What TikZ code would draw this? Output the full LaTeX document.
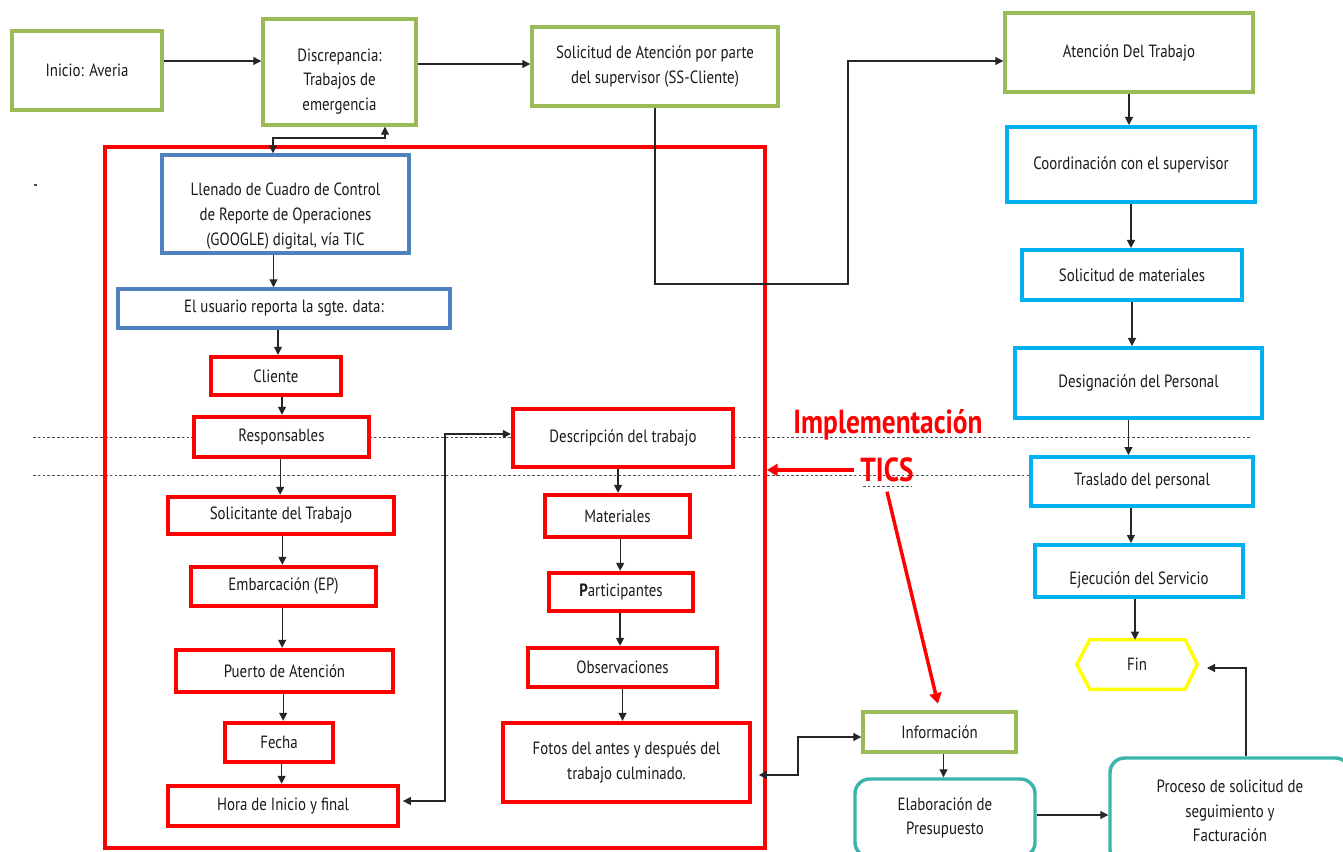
\documentclass[tikz,border=0pt]{standalone}
\usepackage{fontspec}
\setmainfont{PT Sans}[FakeStretch=0.84]
\newfontfamily\boldcond{PT Sans}[FakeStretch=0.82]
\usetikzlibrary{arrows.meta,calc}
\definecolor{gr}{HTML}{9BBB59}
\definecolor{bl}{HTML}{4F81BD}
\definecolor{cy}{HTML}{00B0F0}
\definecolor{tl}{HTML}{3BB5AC}
\definecolor{yl}{HTML}{FFFF00}
\definecolor{txt}{HTML}{1A1A1A}
\tikzset{
 sz/.style 2 args={minimum width=#1*0.75pt, minimum height=#2*0.75pt},
 tf/.style={font=\fontsize{13.3}{18.5}\selectfont, text=txt},
 bx/.style={draw, fill=white, inner sep=0pt, align=center, tf},
 gbox/.style={bx, draw=gr, line width=2.6pt},
 bbox/.style={bx, draw=bl, line width=2.6pt},
 cbox/.style={bx, draw=cy, line width=3pt},
 rbox/.style={bx, draw=red, line width=3.3pt},
 tbox/.style={bx, draw=tl, line width=2.6pt, rounded corners=11pt},
 arr/.style={-{Triangle[length=6pt,width=6pt]}, line width=0.9pt, draw=black!85},
 darr/.style={{Triangle[length=6pt,width=6pt]}-{Triangle[length=6pt,width=6pt]}, line width=0.9pt, draw=black!85},
 redarr/.style={-{Triangle[length=8pt,width=9pt]}, line width=2.6pt, draw=red},
 dots/.style={draw=black!70, line width=0.6pt, dash pattern=on 2pt off 1.6pt},
}
\begin{document}
\begin{tikzpicture}[x=0.75pt,y=-0.75pt]
\useasboundingbox (0,0) rectangle (1343,852);
\clip (0,0) rectangle (1343,852);
\fill[white] (0,0) rectangle (1343,852);

% dotted guide lines
\draw[dots] (33,437) -- (1250,437);
\draw[dots] (33,475) -- (1031,475);
\draw[dots] (863,486) -- (912,486);
\fill[black!70] (34,184.5) rectangle (37,185.6);

% big red frame
\node[draw=red, line width=2.9pt, sz={660}{701}, inner sep=0pt] (big) at (435,497.5) {};

% nodes top row
\node[gbox, sz={150}{79}] (ini) at (87,70.5) {Inicio: Averia};
\node[gbox, sz={153}{106}, label={[tf, align=center, yshift=-7pt]center:Discrepancia:\\Trabajos de\\emergencia}] (disc) at (339.5,72) {};
\node[gbox, sz={246}{79}] (sol) at (655,66.5) {Solicitud de Atención por parte\\del supervisor (SS-Cliente)};

% right column
\node[gbox, sz={248}{79}] (aten) at (1129,52.5) {Atención Del Trabajo};
\node[cbox, sz={248}{75}] (coord) at (1131,164.5) {Coordinación con el supervisor};
\node[cbox, sz={220}{50}] (solm) at (1132,275) {Solicitud de materiales};
\node[cbox, sz={247}{70}] (desig) at (1138.5,383) {Designación del Personal};
\node[cbox, sz={222}{49}] (trasl) at (1142,481.5) {Traslado del personal};
\node[cbox, sz={208}{52}, label={[tf, yshift=-7pt]center:Ejecución del Servicio}] (ejec) at (1139,571) {};
\node[bx, draw=none, fill=none, sz={120}{49}] (fin) at (1137,664.5) {Fin};
\draw[yl, line width=2.6pt, line join=round] (fin.west) -- ($(fin.north west)+(13,0)$) -- ($(fin.north east)+(-12,0)$) -- (fin.east) -- ($(fin.south east)+(-12,0)$) -- ($(fin.south west)+(13,0)$) -- cycle;

% bottom right
\node[gbox, sz={153}{40}] (info) at (939.5,732) {Información};
\node[tbox, sz={180}{78}] (elab) at (945,818) {Elaboración de\\Presupuesto};
\node[tbox, sz={240}{106}] (proc) at (1230,811) {Proceso de solicitud de\\seguimiento y\\Facturación};

% inside frame, left column
\node[bbox, sz={247}{98}, label={[tf, align=center, yshift=-9pt]center:Llenado de Cuadro de Control\\de Reporte de Operaciones\\(GOOGLE) digital, vía TIC}] (llen) at (285.5,204) {};
\node[bbox, sz={332}{39}] (usu) at (284,308.5) {El usuario reporta la sgte. data:};
\node[rbox, sz={130}{38}] (cli) at (276,376) {Cliente};
\node[rbox, sz={175}{40}] (resp) at (281.5,437) {Responsables};
\node[rbox, sz={226}{37}] (solt) at (281,515.5) {Solicitante del Trabajo};
\node[rbox, sz={185}{39}] (emb) at (283.5,586.5) {Embarcación (EP)};
\node[rbox, sz={217}{42}] (pue) at (284.5,671) {Puerto de Atención};
\node[rbox, sz={108}{39}] (fec) at (279,742.5) {Fecha};
\node[rbox, sz={230}{40}] (hora) at (283,806) {Hora de Inicio y final};

% inside frame, right column
\node[rbox, sz={220}{58}] (desc) at (623,438) {Descripción del trabajo};
\node[rbox, sz={145}{42}] (mat) at (617.5,516) {Materiales};
\node[rbox, sz={144}{38}] (par) at (621,592) {\textbf{P}articipantes};
\node[rbox, sz={189}{39}] (obs) at (622.5,667.5) {Observaciones};
\node[rbox, sz={247}{79}] (fot) at (626.5,762.5) {Fotos del antes y después del\\trabajo culminado.};

% Implementacion TICS label
\node[text=red, font=\boldcond\bfseries\fontsize{25}{28}\selectfont, inner sep=0pt] (impl) at (888,425) {Implementación};
\node[text=red, font=\boldcond\bfseries\fontsize{25}{28}\selectfont, inner sep=0pt] (tics) at (887,470) {TICS};

% coordinates for elbows
\coordinate (a1) at (0,61);
\coordinate (a2) at (0,64);
\coordinate (d1) at (273,138);
\coordinate (d2) at (385,138);
\coordinate (s1) at (655,284);
\coordinate (s2) at (848,284);
\coordinate (s3) at (848,61);
\coordinate (h1) at (445,801);
\coordinate (h2) at (445,434);
\coordinate (f1) at (798,775);
\coordinate (f2) at (798,737);
\coordinate (e1) at (0,815);
\coordinate (p1) at (1246,668);
\coordinate (p2) at (1207,668);

% connectors
\draw[arr] (a1 -| ini.east) -- (a1 -| disc.west);
\draw[arr] (a2 -| disc.east) -- (a2 -| sol.west);
\draw[darr] (d1 |- llen.north) -- (d1) -- (d2) -- (d2 |- disc.south);
\draw[arr] (sol.south -| s1) -- (s1) -- (s2) -- (s3) -- (s3 -| aten.west);

\draw[arr] (aten.south) -- (aten.south |- coord.north);
\draw[arr] (coord.south) -- (coord.south |- solm.north);
\draw[arr] (solm.south) -- (solm.south |- desig.north);
\draw[arr] ([xshift=-7.5pt]desig.south) -- ([xshift=-7.5pt]desig.south |- trasl.north);
\draw[arr] ([xshift=-8.3pt]trasl.south) -- ([xshift=-8.3pt]trasl.south |- ejec.north);
\draw[arr] ([xshift=-3pt]ejec.south) -- ([xshift=-3pt]ejec.south |- fin.north);

\draw[arr] ([xshift=-9pt]llen.south) -- ([xshift=-9pt]llen.south |- usu.north);
\draw[arr] ([xshift=-4.5pt]usu.south) -- ([xshift=-4.5pt]usu.south |- cli.north);
\draw[arr] ([xshift=4.5pt]cli.south) -- ([xshift=4.5pt]cli.south |- resp.north);
\draw[arr] ([xshift=-1pt]resp.south) -- ([xshift=-1pt]resp.south |- solt.north);
\draw[arr] ([xshift=1pt]solt.south) -- ([xshift=1pt]solt.south |- emb.north);
\draw[arr] ([xshift=-1pt]emb.south) -- ([xshift=-1pt]emb.south |- pue.north);
\draw[arr] ([xshift=-1pt]pue.south) -- ([xshift=-1pt]pue.south |- fec.north);
\draw[arr] ([xshift=2pt]fec.south) -- ([xshift=2pt]fec.south |- hora.north);

\draw[arr] ([xshift=-3.7pt]desc.south) -- ([xshift=-3.7pt]desc.south |- mat.north);
\draw[arr] ([xshift=2pt]mat.south) -- ([xshift=2pt]mat.south |- par.north);
\draw[arr] ([xshift=-0.7pt]par.south) -- ([xshift=-0.7pt]par.south |- obs.north);
\draw[arr] (obs.south) -- (obs.south |- fot.north);

\draw[darr, shorten <=2pt] (h1 -| hora.east) -- (h1) -- (h2) -- (h2 -| desc.west);
\draw[darr, shorten <=5pt] (f1 -| fot.east) -- (f1) -- (f2) -- (f2 -| info.west);

\draw[arr] ([xshift=3pt]info.south) -- ([xshift=3pt]info.south |- elab.north);
\draw[arr] (e1 -| elab.east) -- (e1 -| proc.west);
\draw[arr] (p1 |- proc.north) -- (p1) -- (p2);

% red arrows
\draw[redarr] ([xshift=-5pt]tics.west) -- (tics.west -| big.east);
\draw[redarr, shorten >=5pt] ([yshift=-7pt]tics.south) -- (info.north);
\end{tikzpicture}
\end{document}
